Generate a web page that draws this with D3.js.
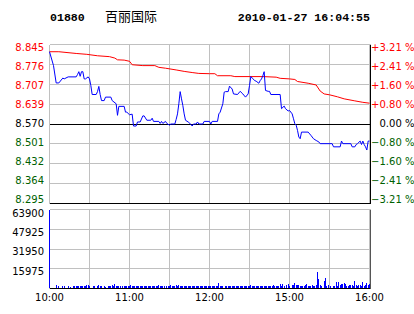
<!DOCTYPE html>
<html>
<head>
<meta charset="utf-8">
<script src="https://cdn.jsdelivr.net/npm/d3@7"></script>
<style>
  body { margin: 0; background: #fff; }
  svg { display: block; }
  text { font-family: "DejaVu Sans", sans-serif; font-size: 10px; }
</style>
</head>
<body>
<svg id="chart" width="414" height="314"></svg>
<script>
var stockCode = "01880";
var stockName = "百丽国际";
var stamp = "2010-01-27 16:04:55";
var prevClose = 8.570;

var priceTicks = [8.845, 8.776, 8.707, 8.639, 8.570, 8.501, 8.432, 8.364, 8.295];
var pctSigns  = ["+", "+", "+", "+", "", "−", "−", "−", "−"];
var pctTicks  = ["3.21", "2.41", "1.60", "0.80", "0.00", "0.80", "1.60", "2.41", "3.21"];
var volTicks  = [63900, 47925, 31950, 15975];
var timeTicks = [0, 60, 120, 180, 240];
var timeLabels = ["10:00", "11:00", "12:00", "15:00", "16:00"];

// [minute since 10:00, price]
var pricePoints = [
  [0,8.820],[3,8.772],[5,8.712],[7,8.712],[10,8.729],[11,8.726],[14,8.733],[20,8.733],[21,8.741],[22,8.751],
  [23,8.735],[24,8.751],[25,8.751],[26,8.726],[27,8.726],[29,8.733],[30,8.726],[31,8.703],[32,8.672],[35,8.672],
  [36,8.682],[37,8.700],[38,8.672],[39,8.651],[41,8.651],[42,8.663],[46,8.663],[47,8.651],[50,8.640],[51,8.600],
  [52,8.631],[56,8.631],[57,8.611],[58,8.611],[60,8.602],[62,8.604],[63,8.563],[65,8.563],[66,8.577],[68,8.577],
  [70,8.598],[71,8.598],[73,8.583],[76,8.583],[77,8.590],[78,8.579],[82,8.579],[83,8.572],[84,8.579],[85,8.572],
  [87,8.579],[88,8.572],[90,8.566],[91,8.570],[94,8.570],[95,8.586],[96,8.605],[97,8.640],[98,8.682],[99,8.657],
  [100,8.634],[101,8.605],[102,8.583],[104,8.577],[106,8.569],[107,8.563],[108,8.570],[110,8.570],[111,8.577],[112,8.570],
  [115,8.570],[116,8.579],[120,8.579],[121,8.570],[122,8.579],[126,8.579],[127,8.605],[128,8.611],[130,8.640],[131,8.680],
  [132,8.682],[134,8.682],[135,8.701],[137,8.691],[138,8.674],[141,8.672],[143,8.683],[145,8.674],[147,8.663],[149,8.674],
  [150,8.703],[151,8.734],[152,8.729],[154,8.720],[155,8.718],[157,8.711],[158,8.720],[159,8.726],[160,8.737],[161,8.751],
  [162,8.686],[164,8.683],[165,8.683],[166,8.672],[173,8.672],[174,8.623],[176,8.632],[177,8.623],[179,8.615],[180,8.617],
  [182,8.605],[183,8.588],[184,8.571],[185,8.566],[186,8.548],[187,8.525],[188,8.519],[189,8.542],[194,8.542],[196,8.531],
  [198,8.519],[200,8.513],[202,8.508],[203,8.502],[212,8.502],[213,8.491],[218,8.491],[219,8.511],[220,8.502],[226,8.502],
  [227,8.491],[229,8.491],[230,8.499],[231,8.502],[233,8.511],[234,8.499],[235,8.511],[236,8.499],[237,8.491],[238,8.480],
  [239,8.511],[240,8.511]
];

// [minute, average price]
var avgPoints = [
  [0,8.820],[7,8.820],[20,8.814],[28,8.811],[36,8.806],[45,8.803],[49,8.798],[51,8.792],[56,8.791],[60,8.787],
  [62,8.775],[70,8.772],[79,8.772],[82,8.766],[87,8.763],[95,8.757],[101,8.752],[107,8.748],[112,8.745],[120,8.744],
  [124,8.744],[126,8.737],[136,8.737],[139,8.734],[160,8.734],[170,8.732],[173,8.728],[180,8.726],[184,8.724],[186,8.717],
  [194,8.711],[200,8.705],[202,8.691],[203,8.684],[206,8.674],[210,8.671],[216,8.664],[221,8.657],[229,8.650],[235,8.645],
  [240,8.642]
];

// volume per minute, minute 0..240
var volumes = [
  63900,
  0,0,0,0,2600,0,1800,0,0,
  1800,1800,0,0,1800,0,1600,0,1800,1800,
  1800,2000,1800,1800,1800,1800,1800,1800,2600,2600,
  1800,0,0,1800,1800,0,1800,2600,1800,1800,
  0,1800,1600,0,1800,2200,1800,2600,1800,3400,
  2000,1800,1800,1800,0,1800,2200,1800,1800,1800,
  1800,3200,2400,1800,1800,1800,2000,1800,1800,2400,
  1800,1800,1800,1800,2200,1800,1800,1800,2000,1800,
  1800,2200,3200,1800,2400,1800,1800,0,1800,1800,
  1800,2600,1800,2400,2000,2600,1800,2600,1800,1800,
  2200,1800,1800,1800,1800,2000,1800,1800,2000,1800,
  1800,1800,1800,2000,1800,1800,1800,2200,1800,1800,
  1800,1800,1800,2400,2000,1800,2200,4500,2400,1800,
  1800,0,1800,1800,2000,1800,1800,2200,1800,1800,
  2200,1800,1800,2000,1800,2400,1800,1800,1800,2200,
  1800,2600,1800,1800,2400,1800,2000,1800,2400,2400,
  1800,1800,2400,2000,1800,2400,1800,2000,2600,1800,
  2000,1800,2400,3400,2000,3400,1800,0,2600,3400,
  1800,0,2600,3200,4200,3200,2600,3200,2000,2400,
  1800,2000,2600,3400,2400,2000,1800,2600,2400,1800,
  2600,13000,7400,2600,2400,0,6400,8200,1800,2800,
  0,2200,0,1800,1800,5000,2400,5000,2600,3800,
  3800,4200,4000,2400,1800,2800,3200,2600,1800,5800,
  2600,2400,3200,2800,2000,5600,2400,3000,4800,3200,
  3400
];

var svg = d3.select("#chart");
var crisp = function(v) { return Math.round(v - 0.5) + 0.5; };
var RED = "#ff0000", GREEN = "#005f00", BLUE = "#0000ff", GRID = "#c0c0c0";

var x = d3.scaleLinear().domain([0, 240]).range([49.5, 369.5]);
var yPrice = d3.scaleLinear().domain([priceTicks[8], priceTicks[0]]).range([203.5, 44.5]);
var yPriceLabel = d3.scaleLinear().domain([priceTicks[8], priceTicks[0]]).range([199.5, 47.7]);
var yVol = d3.scaleLinear().domain([0, volTicks[0]]).range([288.5, 209.5]);
var yVolLabel = d3.scaleLinear().domain([volTicks[3], volTicks[0]]).range([271, 213]);

function tickColor(i) { return pctSigns[i] == "+" ? RED : (pctSigns[i] == "" ? "#000" : GREEN); }

// header
svg.append("text").attr("x", 50).attr("y", 21)
  .style("font-family", "'Liberation Mono', monospace").style("font-weight", "bold").style("font-size", "11.6px")
  .text(stockCode);
svg.append("text").attr("x", 105).attr("y", 20.5)
  .style("font-family", "'Noto Sans CJK SC', sans-serif").style("font-size", "13px")
  .text(stockName);
svg.append("text").attr("x", 370).attr("y", 21).attr("text-anchor", "end")
  .style("font-family", "'Liberation Mono', monospace").style("font-weight", "bold").style("font-size", "11.6px")
  .text(stamp);

// grids
var grid = svg.append("g").attr("shape-rendering", "crispEdges");
d3.range(0, 241, 30).forEach(function(m) {
  grid.append("line").attr("x1", crisp(x(m))).attr("x2", crisp(x(m)))
    .attr("y1", 44.5).attr("y2", 203.5).attr("stroke", GRID);
  grid.append("line").attr("x1", crisp(x(m))).attr("x2", crisp(x(m)))
    .attr("y1", 209.5).attr("y2", 288.5).attr("stroke", GRID);
});
priceTicks.forEach(function(p, i) {
  var black = (i == 4 || i == 8);
  grid.append("line").attr("x1", 49.5).attr("x2", 370.5)
    .attr("y1", crisp(yPrice(p))).attr("y2", crisp(yPrice(p)))
    .attr("stroke", black ? "#000" : GRID);
});
volTicks.forEach(function(v) {
  grid.append("line").attr("x1", 49.5).attr("x2", 370.5)
    .attr("y1", crisp(yVol(v))).attr("y2", crisp(yVol(v))).attr("stroke", GRID);
});
grid.append("line").attr("x1", 49.5).attr("x2", 370.5).attr("y1", 288.5).attr("y2", 288.5).attr("stroke", "#000");
grid.append("line").attr("x1", 370.5).attr("x2", 370.5).attr("y1", 44.5).attr("y2", 203.5).attr("stroke", "#000");
grid.append("line").attr("x1", 370.5).attr("x2", 370.5).attr("y1", 209.5).attr("y2", 288.5).attr("stroke", "#555");

// volume bars
var volData = volumes.map(function(v, i) { return [i, v]; }).filter(function(d) { return d[1] > 0; });
svg.append("g").attr("shape-rendering", "crispEdges")
  .selectAll("rect").data(volData).enter().append("rect")
  .attr("x", function(d) { return Math.floor(x(d[0])); })
  .attr("width", 1)
  .attr("y", function(d) { return Math.round(yVol(d[1])); })
  .attr("height", function(d) { return 288 - Math.round(yVol(d[1])); })
  .attr("fill", BLUE);

// lines
var line = d3.line().x(function(d) { return x(d[0]); }).y(function(d) { return yPrice(d[1]); });
svg.append("path").datum(avgPoints).attr("d", line)
  .attr("fill", "none").attr("stroke", RED).attr("stroke-width", 1);
svg.append("path").datum(pricePoints).attr("d", line)
  .attr("fill", "none").attr("stroke", BLUE).attr("stroke-width", 1);

// left price labels
priceTicks.forEach(function(p, i) {
  svg.append("text").attr("x", 44).attr("y", yPriceLabel(p)).attr("dy", "0.36em")
    .attr("text-anchor", "end").attr("fill", tickColor(i)).text(p.toFixed(3));
});
// right percent labels
pctTicks.forEach(function(t, i) {
  var yy = yPriceLabel(priceTicks[i]);
  if (pctSigns[i]) {
    svg.append("text").attr("x", 371).attr("y", yy).attr("dy", "0.36em")
      .attr("fill", tickColor(i)).text(pctSigns[i]);
  }
  svg.append("text").attr("x", 379.5).attr("y", yy).attr("dy", "0.36em")
    .attr("fill", tickColor(i)).text(t + " %");
});
// volume labels
volTicks.forEach(function(v) {
  svg.append("text").attr("x", 44).attr("y", yVolLabel(v)).attr("dy", "0.36em")
    .attr("text-anchor", "end").text(v);
});
// time labels
timeTicks.forEach(function(m, i) {
  svg.append("text").attr("x", x(m)).attr("y", 297.5).attr("dy", "0.36em")
    .attr("text-anchor", "middle").text(timeLabels[i]);
});
</script>
</body>
</html>
